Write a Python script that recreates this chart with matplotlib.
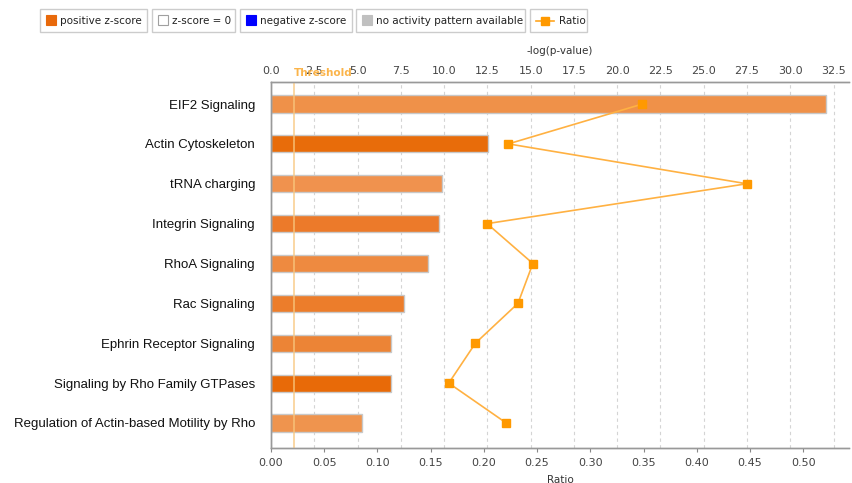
import matplotlib.pyplot as plt
import matplotlib.patches as mpatches
from matplotlib.lines import Line2D

pathways = ["EIF2 Signaling", "Actin Cytoskeleton", "tRNA charging", "Integrin Signaling",
            "RhoA Signaling", "Rac Signaling", "Ephrin Receptor Signaling",
            "Signaling by Rho Family GTPases", "Regulation of Actin-based Motility by Rho"]
neg_log_p = [32.04, 12.53, 9.87, 9.72, 9.06, 7.70, 6.95, 6.95, 5.23]
ratio = [0.349, 0.223, 0.447, 0.203, 0.246, 0.232, 0.192, 0.167, 0.221]
bar_colors = ["#ef9149", "#e86c0a", "#f0924e", "#ec7a2a", "#ee8a40",
              "#ec7d2b", "#ec8436", "#e86a08", "#ef944e"]
threshold = 1.3

fig = plt.figure(figsize=(8.52, 4.83), dpi=100)
ax = fig.add_axes([271 / 852, 1 - 448 / 483, (849 - 271) / 852, (448 - 82) / 483])
ax_top = ax.twiny()

ypos = list(range(len(pathways)))

# bars: -log(p-value) on the top axis
ax_top.barh(ypos, neg_log_p, height=0.43, color=bar_colors, edgecolor="#c8c8c8",
            linewidth=1, zorder=2)
ax_top.set_xlim(0, 33.39)
ax_top.set_xticks([i * 2.5 for i in range(14)])
ax_top.set_xticklabels(["%.1f" % (i * 2.5) for i in range(14)])
ax_top.grid(axis="x", color="#d4d4d4", linestyle=(0, (3, 3)), linewidth=0.8, zorder=0)
ax_top.set_axisbelow(True)
ax_top.axvline(threshold, color="#f9c77e", linewidth=1.4, alpha=0.7, zorder=3)
ax_top.text(threshold, 1.012, "Threshold", transform=ax_top.get_xaxis_transform(),
            color="#fbb44a", fontsize=7.5, fontweight="bold", ha="left", va="bottom",
            zorder=5, clip_on=False)
ax_top.set_xlabel("-log(p-value)", fontsize=7.5, color="#333333", labelpad=9)
ax_top.tick_params(axis="x", length=0, labelsize=8, colors="#444444", pad=4)

# ratio line on the bottom axis, drawn above the bars
ax.set_zorder(ax_top.get_zorder() + 1)
ax.patch.set_visible(False)
ax.plot(ratio, ypos, color="#ffb142", linewidth=1.2, marker="s", markersize=6,
        markerfacecolor="#ff9900", markeredgecolor="#ff9900", zorder=4)
ax.set_xlim(0, 0.543)
ax.set_xticks([i * 0.05 for i in range(11)])
ax.set_xticklabels(["%.2f" % (i * 0.05) for i in range(11)])
ax.set_xlabel("Ratio", fontsize=7.5, color="#333333", labelpad=5)
ax.tick_params(axis="x", length=3, color="#888888", labelsize=8, colors="#444444", pad=4)
ax.set_ylim(8.627, -0.552)
ax.set_yticks(ypos)
ax.set_yticklabels(pathways, fontsize=9.5, family="Liberation Sans", color="#111111")
ax.tick_params(axis="y", length=0, pad=11.5)

for a in (ax, ax_top):
    a.spines["right"].set_visible(False)
    for s in ("left", "top", "bottom"):
        a.spines[s].set_color("#999999")
        a.spines[s].set_linewidth(1)

# legend row across the top
legend_items = [
    (40, 147, "positive z-score", "#e8690b", "#e8690b"),
    (152, 235, "z-score = 0", "white", "#a0a0a0"),
    (240, 352, "negative z-score", "#0000ff", "#0000ff"),
    (356, 525, "no activity pattern available", "#c0c0c0", "#c0c0c0"),
    (530, 587, "Ratio", None, None),
]
W, H = 852, 483
for x0, x1, label, fc, ec in legend_items:
    box = mpatches.Rectangle((x0 / W, 1 - 32 / H), (x1 - x0) / W, 23 / H,
                             transform=fig.transFigure, facecolor="white",
                             edgecolor="#cccccc", linewidth=1)
    fig.patches.append(box)
    yc = 1 - 20.5 / H
    if fc is None:
        fig.add_artist(Line2D([(x0 + 6) / W, (x0 + 24) / W], [yc, yc],
                              transform=fig.transFigure, color="#ffa520", linewidth=1.2))
        fig.add_artist(Line2D([(x0 + 15) / W], [yc], transform=fig.transFigure,
                              marker="s", markersize=6, color="#ff9900", linestyle="none"))
        tx = x0 + 29
    else:
        sq = mpatches.Rectangle(((x0 + 6) / W, yc - 5 / H), 10 / W, 10 / H,
                                transform=fig.transFigure, facecolor=fc,
                                edgecolor=ec, linewidth=0.8)
        fig.patches.append(sq)
        tx = x0 + 20
    fig.text(tx / W, yc, label, fontsize=7.5, color="#222222", va="center", ha="left")

fig.savefig("out.png", dpi=100)
